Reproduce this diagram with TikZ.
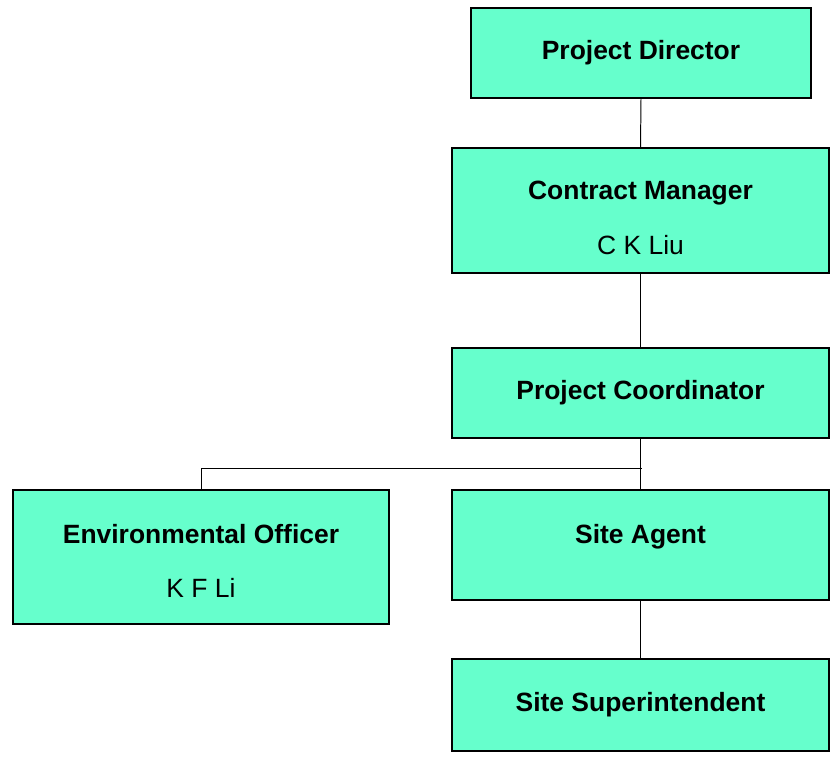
\documentclass[tikz,border=0pt]{standalone}
\usepackage{fontspec}
\setmainfont{Liberation Sans}
\definecolor{boxgreen}{HTML}{66FFCC}

\begin{document}
\begin{tikzpicture}[x=0.025cm, y=-0.025cm,
        box/.style={draw, line width=1pt, fill=boxgreen, align=center, inner sep=0pt,
            font=\fontsize{18.8}{22.5}\selectfont},
        link/.style={line width=0.7pt}]
        \useasboundingbox (0, 0) rectangle (834, 757);
        % boxes
        \node[box, minimum width=8.5cm, minimum height=2.25cm] (director) at (641, 53) {\bfseries Project Director};
        \node[box, minimum width=9.425cm, minimum height=3.125cm] (manager) at (640.5, 210.5) {\rule{0pt}{23.5pt}\bfseries Contract Manager\\[16.5pt] C K Liu};
        \node[box, minimum width=9.425cm, minimum height=2.25cm] (coordinator) at (640.5, 393) {\bfseries Project Coordinator};
        \node[box, minimum width=9.4cm, minimum height=3.35cm] (envofficer) at (201, 557) {\rule{0pt}{19.2pt}\bfseries Environmental Officer\\[16.5pt] K F Li};
        \node[box, minimum width=9.425cm, minimum height=2.75cm, text depth=15.6pt] (agent) at (640.5, 545) {\bfseries Site Agent};
        \node[box, minimum width=9.425cm, minimum height=2.3cm] (superintendent) at (640.5, 705) {\bfseries Site Superintendent};
        % links
        \coordinate (branch) at (642, 468);
        \draw[link] (director.south) -- (manager.north);
        \draw[link] (manager.south) -- (coordinator.north);
        \draw[link] (coordinator.south) -- (agent.north);
        \draw[link] (envofficer.north) |- (branch);
        \draw[link] (agent.south) -- (superintendent.north);
    \end{tikzpicture}
\end{document}
